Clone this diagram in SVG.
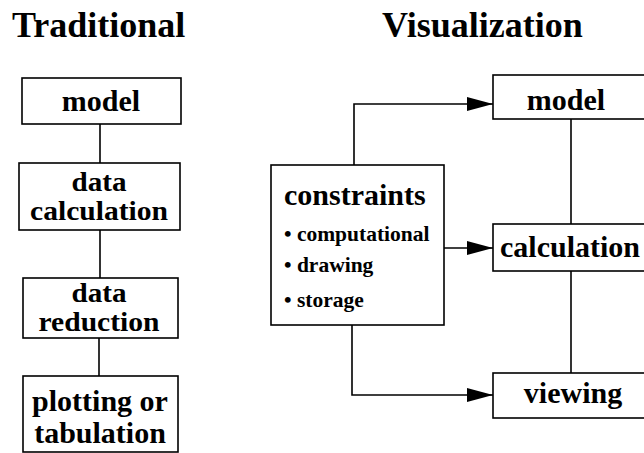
<svg xmlns="http://www.w3.org/2000/svg" width="644" height="453" viewBox="0 0 644 453">
<style>
  .box{fill:#fff;stroke:#000;stroke-width:1.6}
  .t{font-family:"Liberation Serif","Times New Roman",serif;font-weight:bold;fill:#000}
  .title{font-size:36px}
  .lbl{font-size:30px;text-anchor:middle}
  .lbl2{font-size:27px;text-anchor:middle}
  .small{font-size:21.5px}
  .c{fill:none;stroke:#000;stroke-width:1.6}
</style>
<defs>
  <marker id="ah" viewBox="0 0 26 14" refX="26" refY="7" markerWidth="26" markerHeight="14" markerUnits="userSpaceOnUse" orient="auto">
    <path d="M0,0 L26,7 L0,14 Z" fill="#000"/>
  </marker>
</defs>
<rect width="644" height="453" fill="#fff"/>
<text class="t title" x="12" y="37">Traditional</text>
<text class="t title" x="382" y="37">Visualization</text>

<g id="connectors">
  <path class="c" d="M100,124 V163"/>
  <path class="c" d="M100,230 V278"/>
  <path class="c" d="M99,338 V376"/>
  <path class="c" d="M571,119 V224"/>
  <path class="c" d="M571,271 V373"/>
  <path class="c" d="M354,165 V104 H493" marker-end="url(#ah)"/>
  <path class="c" d="M444,248 H493" marker-end="url(#ah)"/>
  <path class="c" d="M352,325 V395 H493" marker-end="url(#ah)"/>
</g>

<g id="t-model">
  <rect class="box" x="22" y="78" width="159" height="46"/>
  <text class="t lbl" x="101" y="111">model</text>
</g>
<g id="t-calc">
  <rect class="box" x="19" y="163" width="161" height="67"/>
  <text class="t lbl2" x="99" y="191" textLength="55" lengthAdjust="spacingAndGlyphs">data</text>
  <text class="t lbl2" x="99" y="220" textLength="138" lengthAdjust="spacingAndGlyphs">calculation</text>
</g>
<g id="t-reduction">
  <rect class="box" x="23" y="278" width="155" height="60"/>
  <text class="t lbl2" x="99" y="302" textLength="55" lengthAdjust="spacingAndGlyphs">data</text>
  <text class="t lbl2" x="99" y="331" textLength="121" lengthAdjust="spacingAndGlyphs">reduction</text>
</g>
<g id="t-plot">
  <rect class="box" x="23" y="376" width="155" height="76"/>
  <text class="t lbl" x="100" y="411">plotting or</text>
  <text class="t lbl" x="100" y="443">tabulation</text>
</g>

<g id="v-constraints">
  <rect class="box" x="271" y="165" width="173" height="160"/>
  <text class="t" x="284" y="205" font-size="30">constraints</text>
  <text class="t small" x="284" y="241">•&#160;computational</text>
  <text class="t small" x="284" y="272">•&#160;drawing</text>
  <text class="t small" x="284" y="307">•&#160;storage</text>
</g>
<g id="v-model">
  <rect class="box" x="493" y="75" width="160" height="44"/>
  <text class="t lbl" x="566" y="110">model</text>
</g>
<g id="v-calc">
  <rect class="box" x="493" y="224" width="160" height="47"/>
  <text class="t" x="500" y="257" font-size="30">calculation</text>
</g>
<g id="v-view">
  <rect class="box" x="493" y="373" width="160" height="45"/>
  <text class="t lbl" x="573" y="403">viewing</text>
</g>
</svg>
